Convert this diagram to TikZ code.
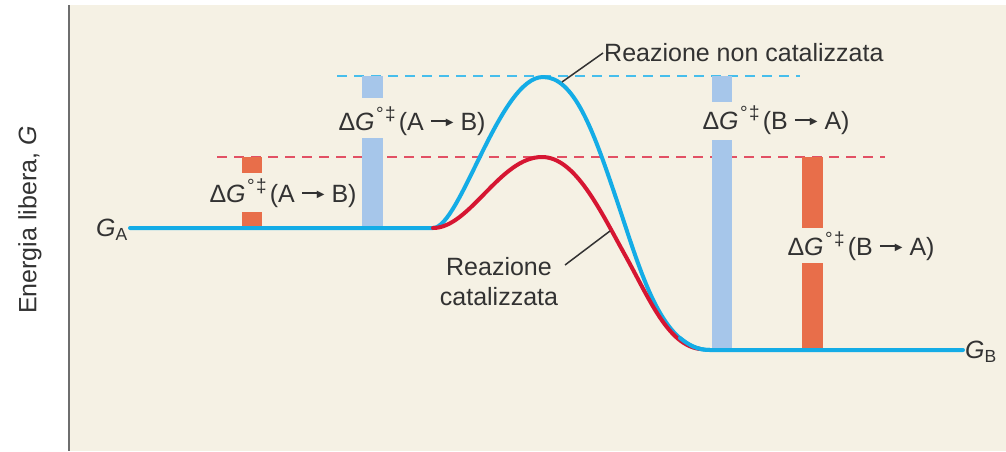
\documentclass[tikz,border=0pt]{standalone}
\usepackage{fontspec}
\setmainfont{Liberation Sans}
\newfontfamily\djv{DejaVu Sans}
\definecolor{bgcream}{RGB}{245,241,228}
\definecolor{axisgray}{RGB}{110,110,110}
\definecolor{curveblue}{RGB}{20,172,230}
\definecolor{curvered}{RGB}{214,22,50}
\definecolor{dashblue}{RGB}{70,190,236}
\definecolor{dashred}{RGB}{226,80,100}
\definecolor{barblue}{RGB}{166,198,234}
\definecolor{barorange}{RGB}{232,110,74}
\definecolor{txt}{RGB}{50,50,50}
\newcommand{\rarr}{\rule[0.34em]{0.66em}{1.4pt}\kern-1.5pt\raisebox{0.2em}{\djv\fontsize{10}{10}\selectfont ▶}}
\newcommand{\dGlab}[2]{Δ\textit{G}\kern1.5pt\raisebox{0.38em}{\fontsize{19}{19}\selectfont °\kern1.5pt‡}\kern3pt(#1\kern7pt\rarr\kern7pt#2)}
\tikzset{
  lbl/.style={font=\fontsize{25}{30}\selectfont, text=txt, inner sep=1pt},
  blueline/.style={draw=curveblue, line width=4pt, line cap=round, line join=round},
  redline/.style={draw=curvered, line width=4pt, line cap=round},
  bluedash/.style={draw=dashblue, line width=2pt, dash pattern=on 10pt off 7pt},
  reddash/.style={draw=dashred, line width=2pt, dash pattern=on 10pt off 7pt},
  bluebar/.style={fill=barblue, draw=none},
  orangebar/.style={fill=barorange, draw=none},
  leader/.style={draw=txt, line width=1.5pt}
}
\begin{document}
\begin{tikzpicture}[x=1pt,y=-1pt]
\useasboundingbox (0,0) rectangle (1006,451);
% background and axis
\fill[white] (0,0) rectangle (1006,451);
\fill[bgcream] (70,5) rectangle (1006,451);
\draw[axisgray, line width=2pt] (69,5) -- (69,451);
\node[lbl, rotate=90] (ylab) at (30,220) {Energia libera, \textit{G}};
% dashed levels
\draw[bluedash] (337,76) -- (800,76);
\draw[reddash] (217,157) -- (885,157);
% bars
\fill[orangebar] (242,157) rectangle (262,173);
\fill[orangebar] (242,212) rectangle (262,228);
\fill[bluebar] (362,76) rectangle (383,98);
\fill[bluebar] (362,138) rectangle (383,228);
\fill[bluebar] (712,76) rectangle (732,102);
\fill[bluebar] (712,140) rectangle (732,350);
\fill[orangebar] (802,157) rectangle (823,228);
\fill[orangebar] (802,263) rectangle (823,350);
% curves
\draw[blueline] (130,228) -- (433,228)
  .. controls (460,228) and (500,77) .. (543,77)
  .. controls (574,77) and (593,130) .. (615,195)
  .. controls (640,268) and (660,350) .. (710,350) -- (963,350);
\draw[redline] (433,228)
  .. controls (470,228) and (500,157) .. (542,157)
  .. controls (575,157) and (600,210) .. (625,255)
  .. controls (650,300) and (668,345) .. (700,349);
\draw[blueline] (680,338) .. controls (690,346) and (698,350) .. (710,350);
% labels
\node[lbl] (lA) at (283,193) {\dGlab{A}{B}};
\node[lbl] (lB) at (412,121) {\dGlab{A}{B}};
\node[lbl] (lC) at (776,120) {\dGlab{B}{A}};
\node[lbl] (lD) at (861,246) {\dGlab{B}{A}};
\node[lbl, anchor=east] (GA) at (129,230) {\textit{G}\textsubscript{A}};
\node[lbl, anchor=west] (GB) at (964,352) {\textit{G}\textsubscript{B}};
\node[lbl, anchor=west] (nc) at (603,53) {Reazione non catalizzata};
\node[lbl, align=center] (cat) at (499,282) {Reazione\\catalizzata};
\coordinate (ncp) at (562,82);
\coordinate (catp) at (610,231);
\draw[leader] (ncp) -- (nc.west);
\draw[leader] (catp) -- (565,265);
\end{tikzpicture}
\end{document}
